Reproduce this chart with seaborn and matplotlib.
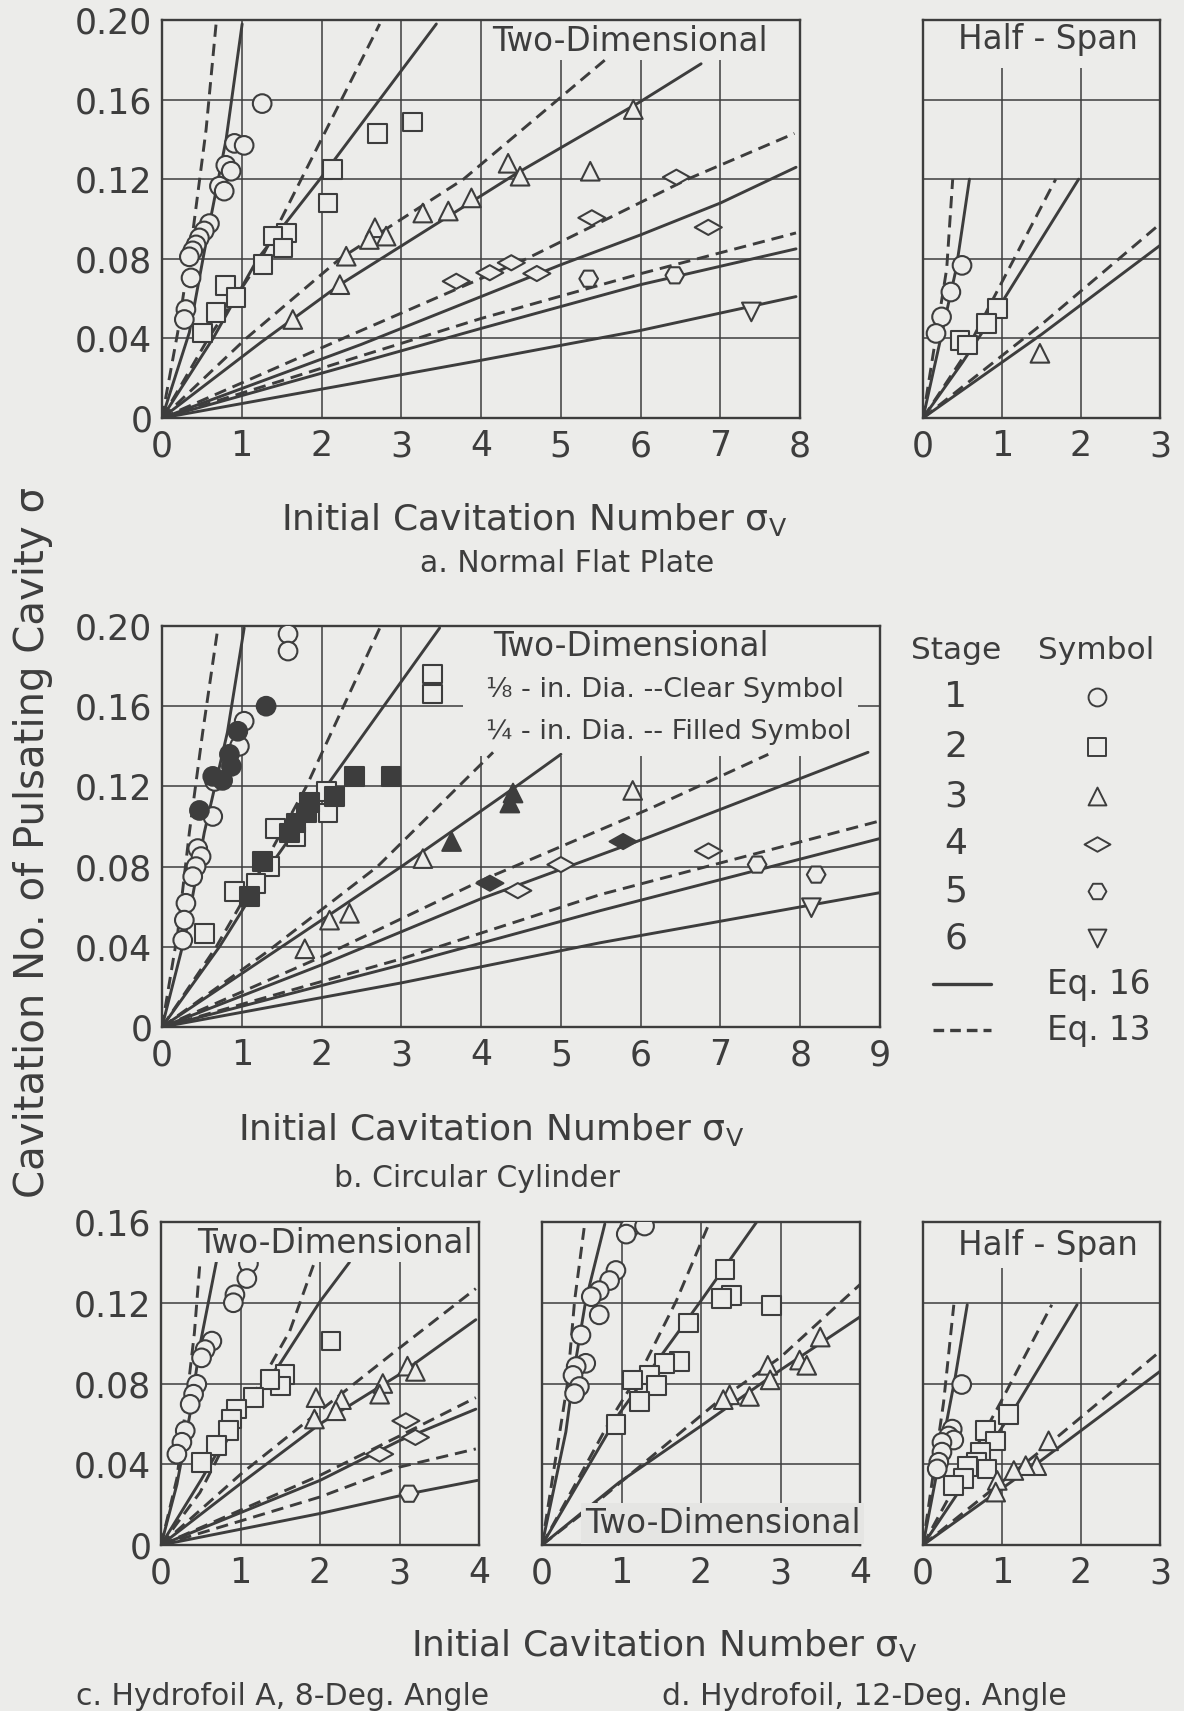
import matplotlib
matplotlib.use("Agg")
import matplotlib.pyplot as plt
import seaborn as sns
import pandas as pd
from matplotlib.path import Path
from matplotlib.markers import MarkerStyle
from matplotlib.transforms import Affine2D

INK = "#3d3d3d"
BG = "#ececea"

# ===================== DATA =====================
# ---- a. Normal Flat Plate, Two-Dimensional: curves (stage, equation) ----
a2_eq13_s1 = [(0, 0), (0.197, 0.043), (0.385, 0.093), (0.553, 0.145), (0.678, 0.198)]
a2_eq16_s1 = [(0, 0), (0.343, 0.043), (0.574, 0.093), (0.804, 0.14), (1.005, 0.198)]
a2_eq13_s2 = [(0, 0), (0.58, 0.04), (1.244, 0.08), (1.746, 0.12), (2.73, 0.198)]
a2_eq16_s2 = [(0, 0), (0.64, 0.04), (1.2, 0.08), (1.98, 0.12), (3.44, 0.198)]
a2_eq13_s3 = [(0, 0), (1.055, 0.04), (2.23, 0.08), (3.78, 0.12), (5.557, 0.18)]
a2_eq16_s3 = [(0, 0), (1.24, 0.038), (2.23, 0.067), (4.45, 0.123), (6.0, 0.159), (6.76, 0.178)]
a2_eq13_s4 = [(0, 0), (2.27, 0.04), (4.57, 0.08), (6.59, 0.12), (7.93, 0.143)]
a2_eq16_s4 = [(0, 0), (2.5, 0.037), (5.0, 0.077), (6.0, 0.092), (7.0, 0.108), (7.95, 0.126)]
a2_eq13_s5 = [(0, 0), (4.0, 0.05), (6.0, 0.0725), (7.95, 0.093)]
a2_eq16_s5 = [(0, 0), (4.0, 0.045), (6.0, 0.067), (7.95, 0.085)]
a2_eq16_s6 = [(0, 0), (4.0, 0.029), (6.0, 0.044), (7.95, 0.061)]
# ---- a. measured points ----
a2_stage1 = [(1.256, 0.158), (0.909, 0.138), (1.03, 0.137), (0.80, 0.127), (0.867, 0.124),
             (0.72, 0.1165), (0.78, 0.114), (0.595, 0.0977), (0.53, 0.094), (0.469, 0.0905),
             (0.427, 0.087), (0.385, 0.084), (0.343, 0.081), (0.364, 0.0704), (0.30, 0.0545),
             (0.28, 0.0495)]
a2_stage2 = [(3.14, 0.1487), (2.70, 0.143), (2.136, 0.125), (2.08, 0.108), (1.558, 0.093),
             (1.39, 0.0914), (1.516, 0.0855), (1.265, 0.077), (0.796, 0.0666), (0.93, 0.0604),
             (0.678, 0.053), (0.51, 0.0427)]
a2_stage3 = [(5.91, 0.155), (5.37, 0.124), (4.34, 0.128), (4.49, 0.1215), (3.88, 0.1106),
             (3.59, 0.104), (3.27, 0.103), (2.67, 0.0956), (2.81, 0.0914), (2.60, 0.0897),
             (2.31, 0.0813), (2.23, 0.067), (1.64, 0.0495)]
a2_stage4 = [(6.45, 0.121), (6.85, 0.0958), (5.39, 0.1006), (4.70, 0.0726), (4.38, 0.078),
             (4.11, 0.073), (3.69, 0.0687)]
a2_stage5 = [(5.35, 0.070), (6.43, 0.0717)]
a2_stage6 = [(7.39, 0.0533)]

# ---- a. Half-Span ----
ah_eq13_s1 = [(0, 0), (0.30, 0.075), (0.376, 0.12)]
ah_eq16_s1 = [(0, 0), (0.42, 0.075), (0.588, 0.12)]
ah_eq13_s2 = [(0, 0), (0.5, 0.03), (0.85, 0.057), (1.68, 0.12)]
ah_eq16_s2 = [(0, 0), (0.5, 0.028), (0.95, 0.055), (1.97, 0.12)]
ah_eq13_s3 = [(0, 0), (1.5, 0.047), (3.0, 0.0975)]
ah_eq16_s3 = [(0, 0), (1.5, 0.042), (3.0, 0.0867)]
ah_stage1 = [(0.494, 0.0767), (0.353, 0.0633), (0.235, 0.0508), (0.165, 0.0425)]
ah_stage2 = [(0.94, 0.055), (0.80, 0.0475), (0.47, 0.039), (0.564, 0.0367)]
ah_stage3 = [(1.48, 0.0325)]

# ---- b. Circular Cylinder, Two-Dimensional ----
b_eq13_s1 = [(0, 0), (0.197, 0.047), (0.343, 0.097), (0.51, 0.147), (0.70, 0.199)]
b_eq16_s1 = [(0, 0), (0.30, 0.047), (0.53, 0.097), (0.82, 0.147), (1.03, 0.199)]
b_eq13_s2 = [(0, 0), (0.68, 0.04), (1.26, 0.08), (1.81, 0.12), (2.73, 0.199)]
b_eq16_s2 = [(0, 0), (0.72, 0.04), (1.35, 0.08), (2.06, 0.12), (3.48, 0.199)]
b_eq13_s3 = [(0, 0), (1.3, 0.037), (2.7, 0.08), (4.15, 0.137)]
b_eq16_s3 = [(0, 0), (1.5, 0.04), (3.0, 0.08), (4.44, 0.12), (5.0, 0.136)]
b_eq13_s4 = [(0, 0), (2.0, 0.035), (4.0, 0.073), (6.12, 0.109), (7.6, 0.136)]
b_eq16_s4 = [(0, 0), (2.0, 0.031), (4.0, 0.064), (6.12, 0.095), (8.85, 0.137)]
b_eq13_s5 = [(0, 0), (3.0, 0.034), (5.49, 0.066), (9.0, 0.1028)]
b_eq16_s5 = [(0, 0), (3.0, 0.031), (5.49, 0.058), (9.0, 0.094)]
b_eq16_s6 = [(0, 0), (3.0, 0.022), (5.49, 0.042), (9.0, 0.067)]
b_stage1_clear = [(1.58, 0.196), (1.58, 0.1875), (1.03, 0.1525), (0.97, 0.14), (0.66, 0.1225),
                  (0.636, 0.105), (0.448, 0.089), (0.49, 0.085), (0.427, 0.08), (0.385, 0.075),
                  (0.30, 0.0617), (0.28, 0.0533), (0.26, 0.0433)]
b_stage1_filled = [(1.305, 0.16), (0.95, 0.1475), (0.845, 0.136), (0.87, 0.13), (0.636, 0.125),
                   (0.76, 0.123), (0.469, 0.108)]
b_stage2_clear = [(2.06, 0.1175), (2.08, 0.1067), (1.42, 0.099), (1.68, 0.095), (1.35, 0.08),
                  (1.18, 0.0717), (0.91, 0.0675), (0.53, 0.0467)]
b_stage2_filled = [(2.41, 0.125), (2.87, 0.125), (2.16, 0.115), (1.85, 0.112), (1.81, 0.1067),
                   (1.68, 0.1017), (1.60, 0.0967), (1.26, 0.0825), (1.10, 0.065)]
b_stage3_clear = [(5.90, 0.118), (3.27, 0.084), (2.35, 0.0567), (2.10, 0.0533), (1.79, 0.039)]
b_stage3_filled = [(3.63, 0.0925), (4.40, 0.1167), (4.36, 0.1117)]
b_stage4_clear = [(5.0, 0.081), (4.46, 0.068), (6.85, 0.0878)]
b_stage4_filled = [(4.11, 0.0717), (5.78, 0.0925)]
b_stage5_clear = [(7.46, 0.081), (8.2, 0.076)]
b_stage6_clear = [(8.14, 0.0595)]
b_key_squares = [(3.39, 0.176), (3.39, 0.166)]

# ---- c. Hydrofoil A, 8-Deg. Angle, Two-Dimensional ----
c_eq13_s1 = [(0, 0), (0.2, 0.033), (0.305, 0.066), (0.42, 0.105), (0.49, 0.14)]
c_eq16_s1 = [(0, 0), (0.2, 0.03), (0.37, 0.066), (0.49, 0.099), (0.70, 0.141)]
c_eq13_s2 = [(0, 0), (0.49, 0.026), (0.89, 0.0566), (1.24, 0.0796), (1.62, 0.106), (1.93, 0.14)]
c_eq16_s2 = [(0, 0), (0.5, 0.032), (0.99, 0.0648), (1.49, 0.0894), (2.0, 0.1206), (2.37, 0.14)]
c_eq13_s3 = [(0, 0), (1.0, 0.035), (2.0, 0.0665), (3.0, 0.0976), (3.96, 0.127)]
c_eq16_s3 = [(0, 0), (1.0, 0.0304), (2.0, 0.06), (3.0, 0.0845), (3.96, 0.1116)]
c_eq13_s4 = [(0, 0), (2.0, 0.0345), (3.0, 0.054), (3.96, 0.073)]
c_eq16_s4 = [(0, 0), (2.0, 0.032), (3.0, 0.0517), (3.96, 0.0673)]
c_eq13_s5 = [(0, 0), (2.0, 0.0238), (3.0, 0.0386), (3.96, 0.0476)]
c_eq16_s5 = [(0, 0), (2.0, 0.0156), (3.12, 0.0254), (3.98, 0.032)]
c_stage1 = [(1.10, 0.1395), (1.08, 0.132), (0.93, 0.124), (0.91, 0.12), (0.64, 0.101),
            (0.555, 0.0968), (0.51, 0.0927), (0.45, 0.0796), (0.41, 0.0747), (0.367, 0.0697),
            (0.305, 0.0566), (0.263, 0.0509), (0.20, 0.045)]
c_stage2 = [(2.14, 0.101), (1.56, 0.0845), (1.50, 0.0788), (1.37, 0.082), (1.16, 0.073),
            (0.95, 0.0673), (0.89, 0.0624), (0.85, 0.0566), (0.70, 0.0492), (0.51, 0.041)]
c_stage3 = [(3.1, 0.0886), (3.2, 0.086), (2.79, 0.080), (2.75, 0.0747), (2.27, 0.072),
            (2.2, 0.0665), (1.95, 0.073), (1.93, 0.0624)]
c_stage4 = [(3.08, 0.0615), (3.2, 0.0533), (2.75, 0.045)]
c_stage5 = [(3.12, 0.0254)]

# ---- d. Hydrofoil, 12-Deg. Angle, Two-Dimensional ----
d_eq13_s1 = [(0, 0), (0.32, 0.08), (0.41, 0.121), (0.53, 0.157)]
d_eq16_s1 = [(0, 0), (0.30, 0.056), (0.41, 0.088), (0.55, 0.121), (0.79, 0.159)]
d_eq13_s2 = [(0, 0), (0.89, 0.064), (1.27, 0.088), (1.69, 0.121), (2.11, 0.16)]
d_eq16_s2 = [(0, 0), (0.97, 0.065), (1.52, 0.095), (2.0, 0.121), (2.70, 0.16)]
d_eq13_s3 = [(0, 0), (0.64, 0.0196), (2.24, 0.072), (3.0, 0.093), (4.0, 0.129)]
d_eq16_s3 = [(0, 0), (0.97, 0.031), (2.0, 0.059), (3.0, 0.0867), (4.0, 0.113)]
d_stage1 = [(1.1, 0.157), (1.06, 0.154), (1.29, 0.158), (0.93, 0.136), (0.85, 0.131),
            (0.72, 0.126), (0.62, 0.123), (0.72, 0.114), (0.49, 0.104), (0.55, 0.09),
            (0.43, 0.0884), (0.39, 0.084), (0.47, 0.0785), (0.41, 0.075)]
d_stage2 = [(2.30, 0.1366), (2.38, 0.1235), (2.26, 0.122), (2.89, 0.1186), (1.84, 0.110),
            (1.73, 0.0908), (1.54, 0.09), (1.35, 0.0843), (1.14, 0.0818), (1.44, 0.079),
            (1.23, 0.071), (0.93, 0.0597)]
d_stage3 = [(3.5, 0.103), (3.24, 0.0916), (3.33, 0.089), (2.84, 0.089), (2.87, 0.0818),
            (2.61, 0.0736), (2.36, 0.0744), (2.28, 0.072)]

# ---- d. Half-Span ----
dh_eq13_s1 = [(0, 0), (0.26, 0.0705), (0.39, 0.119)]
dh_eq16_s1 = [(0, 0), (0.41, 0.0836), (0.56, 0.119)]
dh_eq13_s2 = [(0, 0), (0.98, 0.0705), (1.63, 0.119)]
dh_eq16_s2 = [(0, 0), (1.15, 0.067), (1.95, 0.119)]
dh_eq13_s3 = [(0, 0), (1.5, 0.047), (3.0, 0.0959)]
dh_eq16_s3 = [(0, 0), (1.5, 0.042), (3.0, 0.086)]
dh_stage1 = [(0.49, 0.0795), (0.37, 0.0574), (0.325, 0.054), (0.39, 0.052), (0.24, 0.0508),
             (0.24, 0.046), (0.2, 0.041), (0.18, 0.0377)]
dh_stage2 = [(1.08, 0.0648), (0.79, 0.0566), (0.92, 0.0516), (0.73, 0.046), (0.68, 0.041),
             (0.56, 0.039), (0.81, 0.0377), (0.51, 0.0328), (0.39, 0.0295)]
dh_stage3 = [(1.59, 0.0516), (1.44, 0.0393), (1.30, 0.0393), (1.15, 0.0369), (0.94, 0.032),
             (0.92, 0.0262)]

# ---- tick labels ----
yticks_020 = [0, 0.04, 0.08, 0.12, 0.16, 0.20]
ylabels_020 = ["0", "0.04", "0.08", "0.12", "0.16", "0.20"]
yticks_016 = [0, 0.04, 0.08, 0.12, 0.16]
ylabels_016 = ["0", "0.04", "0.08", "0.12", "0.16"]
xticks_8 = list(range(0, 9))
xticks_9 = list(range(0, 10))
xticks_4 = list(range(0, 5))
xticks_3 = list(range(0, 4))
stages = ["1", "2", "3", "4", "5", "6"]

# ===================== STYLE =====================
sns.set_theme(style="white")
plt.rcParams["font.family"] = ["DejaVu Sans"]
plt.rcParams["mathtext.fontset"] = "dejavusans"
plt.rcParams["text.color"] = INK

DIAMOND = MarkerStyle(
    Path([(-1, 0), (0, 0.56), (1, 0), (0, -0.56), (-1, 0)],
         [Path.MOVETO, Path.LINETO, Path.LINETO, Path.LINETO, Path.CLOSEPOLY]),
    transform=Affine2D().scale(1.45))
MARKERS = {"1": "o", "2": "s", "3": "^", "4": DIAMOND, "5": "H", "6": "v"}
DASHES = {"16": "", "13": (4.2, 2.4)}

W, H = 1184, 1711
fig = plt.figure(figsize=(W / 100, H / 100), dpi=100, facecolor=BG)


def add_ax(x0, y0, x1, y1):
    return fig.add_axes([x0 / W, 1 - y1 / H, (x1 - x0) / W, (y1 - y0) / H])


def curves_df(curves):
    rows = []
    for name, pts in curves.items():
        eq = name.split("_")[1][2:]
        for x, y in pts:
            rows.append({"curve": name, "eq": eq, "x": x, "y": y})
    return pd.DataFrame(rows)


def points_df(groups):
    rows = []
    for stage, pts in groups.items():
        for x, y in pts:
            rows.append({"stage": stage, "x": x, "y": y})
    return pd.DataFrame(rows)


def setup(ax, xmax, ymax, xticks, yticks=None, ylabels=None):
    ax.set_facecolor(BG)
    ax.set_xlim(0, xmax)
    ax.set_ylim(0, ymax)
    ax.set_xticks(xticks)
    ax.set_xticklabels([str(t) for t in xticks])
    if yticks is None:
        ax.set_yticks([])
    else:
        ax.set_yticks(yticks)
        ax.set_yticklabels(ylabels)
    ax.tick_params(axis="both", length=0, labelsize=25, colors=INK)
    ax.tick_params(axis="x", pad=8)
    ax.tick_params(axis="y", pad=7)
    for sp in ax.spines.values():
        sp.set_color(INK)
        sp.set_linewidth(1.7)
        sp.set_visible(True)
    ax.set_xlabel("")
    ax.set_ylabel("")


def grid(ax, vlines, hlines):
    for x, y0, y1 in vlines:
        ax.vlines(x, y0, y1, color=INK, lw=1.1, zorder=1)
    for y, x0, x1 in hlines:
        ax.hlines(y, x0, x1, color=INK, lw=1.1, zorder=1)


def draw_curves(ax, curves):
    df = curves_df(curves)
    sns.lineplot(data=df, x="x", y="y", units="curve", estimator=None, sort=False,
                 style="eq", dashes=DASHES, color=INK, lw=2.1, legend=False, ax=ax, zorder=2)


def draw_points(ax, groups, filled=False):
    df = points_df(groups)
    sns.scatterplot(data=df, x="x", y="y", style="stage", markers=MARKERS,
                    s=180, facecolor=INK if filled else BG, edgecolor=INK,
                    linewidth=1.5, legend=False, ax=ax, zorder=4)


# ===================== PANEL a =====================
ax = add_ax(162, 20, 800, 418)
grid(ax, [(x, 0, 0.2) for x in [1, 2, 3, 4]] + [(x, 0, 0.18) for x in [5, 6, 7]],
     [(y, 0, 8) for y in [0.04, 0.08, 0.12, 0.16]])
draw_curves(ax, {"a2_eq13_s1": a2_eq13_s1, "a2_eq16_s1": a2_eq16_s1,
                 "a2_eq13_s2": a2_eq13_s2, "a2_eq16_s2": a2_eq16_s2,
                 "a2_eq13_s3": a2_eq13_s3, "a2_eq16_s3": a2_eq16_s3,
                 "a2_eq13_s4": a2_eq13_s4, "a2_eq16_s4": a2_eq16_s4,
                 "a2_eq13_s5": a2_eq13_s5, "a2_eq16_s5": a2_eq16_s5,
                 "a2_eq16_s6": a2_eq16_s6})
draw_points(ax, {"1": a2_stage1, "2": a2_stage2, "3": a2_stage3, "4": a2_stage4,
                 "5": a2_stage5, "6": a2_stage6})
setup(ax, 8, 0.2, xticks_8, yticks_020, ylabels_020)
ax.text(5.87, 0.189, "Two-Dimensional", fontsize=23.5, ha="center", va="center", color=INK)

# a half-span
ax = add_ax(923, 20, 1160, 418)
grid(ax, [(x, 0, 0.176) for x in [1, 2]], [(y, 0, 3) for y in [0.04, 0.08, 0.12, 0.16]])
draw_curves(ax, {"ah_eq13_s1": ah_eq13_s1, "ah_eq16_s1": ah_eq16_s1,
                 "ah_eq13_s2": ah_eq13_s2, "ah_eq16_s2": ah_eq16_s2,
                 "ah_eq13_s3": ah_eq13_s3, "ah_eq16_s3": ah_eq16_s3})
draw_points(ax, {"1": ah_stage1, "2": ah_stage2, "3": ah_stage3})
setup(ax, 3, 0.2, xticks_3)
ax.text(1.576, 0.19, "Half - Span", fontsize=23.5, ha="center", va="center", color=INK)

# ===================== PANEL b =====================
ax = add_ax(162, 626, 880, 1027)
grid(ax, [(x, 0, 0.2) for x in [1, 2, 3]] + [(x, 0, 0.135) for x in [4, 5, 6, 7, 8]],
     [(y, 0, 9) for y in [0.04, 0.08, 0.12]] + [(0.16, 0, 3.77), (0.16, 8.73, 9)])
draw_curves(ax, {"b_eq13_s1": b_eq13_s1, "b_eq16_s1": b_eq16_s1,
                 "b_eq13_s2": b_eq13_s2, "b_eq16_s2": b_eq16_s2,
                 "b_eq13_s3": b_eq13_s3, "b_eq16_s3": b_eq16_s3,
                 "b_eq13_s4": b_eq13_s4, "b_eq16_s4": b_eq16_s4,
                 "b_eq13_s5": b_eq13_s5, "b_eq16_s5": b_eq16_s5,
                 "b_eq16_s6": b_eq16_s6})
draw_points(ax, {"1": b_stage1_clear, "2": b_stage2_clear + b_key_squares, "3": b_stage3_clear,
                 "4": b_stage4_clear, "5": b_stage5_clear, "6": b_stage6_clear})
draw_points(ax, {"1": b_stage1_filled, "2": b_stage2_filled, "3": b_stage3_filled,
                 "4": b_stage4_filled}, filled=True)
setup(ax, 9, 0.2, xticks_9, yticks_020, ylabels_020)
ax.text(5.88, 0.19, "Two-Dimensional", fontsize=23.5, ha="center", va="center", color=INK)
ax.text(4.06, 0.168, "⅛ - in. Dia. --Clear Symbol", fontsize=19.5, ha="left", va="center",
        color=INK)
ax.text(4.06, 0.147, "¼ - in. Dia. -- Filled Symbol", fontsize=19.5, ha="left", va="center",
        color=INK)

# legend (Stage / Symbol table)
lax = add_ax(890, 610, 1184, 1060)
lax.set_xlim(890, 1184)
lax.set_ylim(1060, 610)
lax.axis("off")
lax.text(956, 650, "Stage", fontsize=22.5, ha="center", va="center", color=INK)
lax.text(1096, 650, "Symbol", fontsize=22.5, ha="center", va="center", color=INK)
leg_rows = [697, 747, 796, 844, 891, 938]
for st, yy in zip(stages, leg_rows):
    lax.text(956, yy, st, fontsize=26, ha="center", va="center", color=INK)
    lax.scatter([1097], [yy], marker=MARKERS[st], s=165, facecolor=BG, edgecolor=INK,
                linewidth=1.4)
lax.plot([933, 991], [984, 984], color=INK, lw=2.4)
lax.plot([933, 991], [1030, 1030], color=INK, lw=2.4, dashes=(3.2, 1.8))
lax.text(1099, 984, "Eq. 16", fontsize=23.5, ha="center", va="center", color=INK)
lax.text(1099, 1030, "Eq. 13", fontsize=23.5, ha="center", va="center", color=INK)

# ===================== PANEL c =====================
ax = add_ax(161, 1222, 479, 1545)
grid(ax, [(x, 0, 0.14) for x in [1, 2, 3]], [(y, 0, 4) for y in [0.04, 0.08, 0.12]])
draw_curves(ax, {"c_eq13_s1": c_eq13_s1, "c_eq16_s1": c_eq16_s1,
                 "c_eq13_s2": c_eq13_s2, "c_eq16_s2": c_eq16_s2,
                 "c_eq13_s3": c_eq13_s3, "c_eq16_s3": c_eq16_s3,
                 "c_eq13_s4": c_eq13_s4, "c_eq16_s4": c_eq16_s4,
                 "c_eq13_s5": c_eq13_s5, "c_eq16_s5": c_eq16_s5})
draw_points(ax, {"1": c_stage1, "2": c_stage2, "3": c_stage3, "4": c_stage4, "5": c_stage5})
setup(ax, 4, 0.16, xticks_4, yticks_016, ylabels_016)
ax.text(2.19, 0.1495, "Two-Dimensional", fontsize=23.5, ha="center", va="center", color=INK,
        zorder=6, bbox=dict(boxstyle="square,pad=0.08", fc=BG, ec="none"))

# ===================== PANEL d =====================
ax = add_ax(542, 1222, 860, 1545)
grid(ax, [(x, 0.021, 0.16) for x in [1, 2, 3]], [(y, 0, 4) for y in [0.04, 0.08, 0.12]])
draw_curves(ax, {"d_eq13_s1": d_eq13_s1, "d_eq16_s1": d_eq16_s1,
                 "d_eq13_s2": d_eq13_s2, "d_eq16_s2": d_eq16_s2,
                 "d_eq13_s3": d_eq13_s3, "d_eq16_s3": d_eq16_s3})
draw_points(ax, {"1": d_stage1, "2": d_stage2, "3": d_stage3})
setup(ax, 4, 0.16, xticks_4)
ax.text(2.27, 0.0105, "Two-Dimensional", fontsize=23.5, ha="center", va="center", color=INK,
        zorder=6, bbox=dict(boxstyle="square,pad=0.12", fc="#e5e5e3", ec="none"))

# d half-span
ax = add_ax(923, 1222, 1160, 1545)
grid(ax, [(x, 0, 0.137) for x in [1, 2]], [(y, 0, 3) for y in [0.04, 0.08, 0.12]])
draw_curves(ax, {"dh_eq13_s1": dh_eq13_s1, "dh_eq16_s1": dh_eq16_s1,
                 "dh_eq13_s2": dh_eq13_s2, "dh_eq16_s2": dh_eq16_s2,
                 "dh_eq13_s3": dh_eq13_s3, "dh_eq16_s3": dh_eq16_s3})
draw_points(ax, {"1": dh_stage1, "2": dh_stage2, "3": dh_stage3})
setup(ax, 3, 0.16, xticks_3)
ax.text(1.576, 0.1485, "Half - Span", fontsize=23.5, ha="center", va="center", color=INK)

# ===================== FIGURE TEXT =====================
XL = r"Initial Cavitation Number $\mathregular{\sigma_V}$"
fig.text(281 / W, 1 - 530 / H, XL, fontsize=26, ha="left", va="baseline", color=INK)
fig.text(567 / W, 1 - 572 / H, "a. Normal Flat Plate", fontsize=21.5, ha="center",
         va="baseline", color=INK)
fig.text(238 / W, 1 - 1140 / H, XL, fontsize=26, ha="left", va="baseline", color=INK)
fig.text(477 / W, 1 - 1187 / H, "b. Circular Cylinder", fontsize=21.5, ha="center",
         va="baseline", color=INK)
fig.text(411 / W, 1 - 1656 / H, XL, fontsize=26, ha="left", va="baseline", color=INK)
fig.text(283 / W, 1 - 1705 / H, "c. Hydrofoil A, 8-Deg. Angle", fontsize=21.5, ha="center",
         va="baseline", color=INK)
fig.text(864 / W, 1 - 1705 / H, "d. Hydrofoil, 12-Deg. Angle", fontsize=21.5, ha="center",
         va="baseline", color=INK)
fig.text(33 / W, 1 - 843 / H, "Cavitation No. of Pulsating Cavity σ", fontsize=29,
         rotation=90, ha="center", va="center", color=INK)

fig.savefig("out.png", dpi=100, facecolor=BG)
